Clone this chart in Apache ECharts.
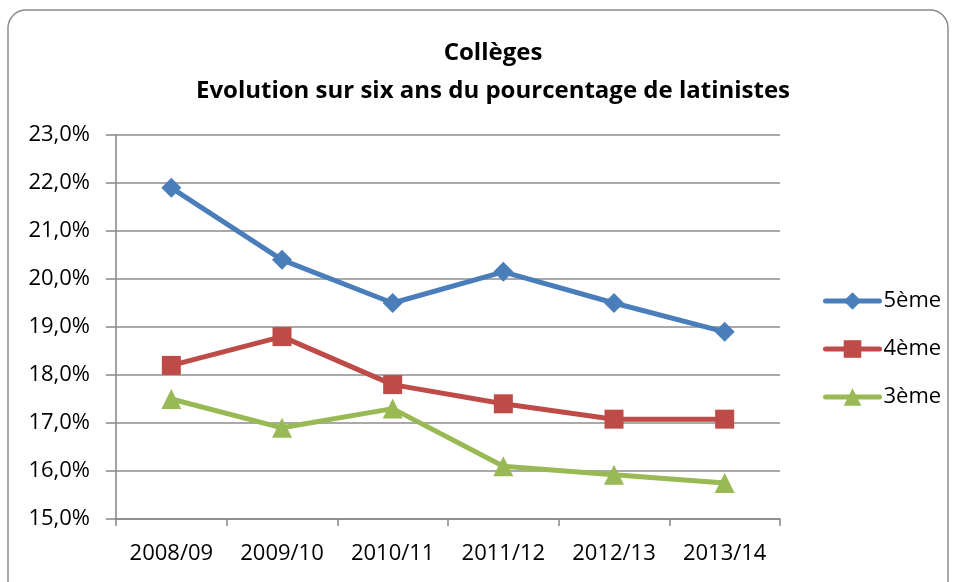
<!DOCTYPE html>
<html><head><meta charset="utf-8">
<script src="https://cdn.jsdelivr.net/npm/echarts@6/dist/echarts.min.js"></script>
<style>html,body{margin:0;padding:0;background:#fff}#c{width:954px;height:582px}</style>
</head><body><div id="c"></div>
<script>
const categories = ['2008/09','2009/10','2010/11','2011/12','2012/13','2013/14'];
const s5 = [21.9, 20.4, 19.5, 20.15, 19.5, 18.9];
const s4 = [18.2, 18.8, 17.8, 17.4, 17.08, 17.08];
const s3 = [17.5, 16.9, 17.3, 16.1, 15.92, 15.75];
const seriesNames = ['5ème','4ème','3ème'];
const yTicks = {min: 15, max: 23, interval: 1};

const font = '"Open Sans", "Liberation Sans", sans-serif';
const chart = echarts.init(document.getElementById('c'));
const mk = (name, data, color, symbol, size) => ({
  name, type: 'line', data, symbol, symbolSize: size,
  lineStyle: {color, width: 5}, itemStyle: {color},
  emphasis: {disabled: true}, animation: false
});
chart.setOption({
  animation: false,
  graphic: [{type: 'rect', shape: {x: 8, y: 10, width: 940, height: 600, r: 18},
    style: {fill: 'none', stroke: '#8c8c8c', lineWidth: 1.5}, silent: true}],
  title: {text: 'Collèges\nEvolution sur six ans du pourcentage de latinistes', left: 488, top: 29, textAlign: 'center',
    textStyle: {fontFamily: font, fontSize: 24, fontWeight: 'bold', color: '#000', lineHeight: 38}},
  legend: {orient: 'vertical', left: 818, top: 285, itemGap: 26, itemWidth: 54, itemHeight: 22,
    lineStyle: {width: 5, cap: 'round'},
    textStyle: {fontFamily: font, fontSize: 22, color: '#000', padding: [0,0,0,-1]},
    data: seriesNames},
  grid: {left: 116, right: 174, top: 135, bottom: 63},
  xAxis: {type: 'category', data: categories, boundaryGap: true,
    axisLine: {lineStyle: {color: '#868686', width: 1.5}},
    axisTick: {show: true, length: 7, inside: false, lineStyle: {color: '#868686', width: 1.5}},
    axisLabel: {fontFamily: font, fontSize: 22, color: '#000', margin: 24}},
  yAxis: {type: 'value', min: yTicks.min, max: yTicks.max, interval: yTicks.interval,
    axisLine: {show: true, lineStyle: {color: '#868686', width: 1.5}},
    axisTick: {show: true, length: 10, lineStyle: {color: '#868686', width: 1.5}},
    splitLine: {lineStyle: {color: '#8c8c8c', width: 1.5}},
    axisLabel: {fontFamily: font, fontSize: 22, color: '#000', margin: 26,
      formatter: v => v.toFixed(1).replace('.', ',') + '%'}},
  series: [
    mk(seriesNames[0], s5, '#4a7ebb', 'diamond', 20),
    mk(seriesNames[1], s4, '#be4b48', 'rect', 19),
    mk(seriesNames[2], s3, '#98b954', 'triangle', 20)
  ]
});
</script></body></html>
